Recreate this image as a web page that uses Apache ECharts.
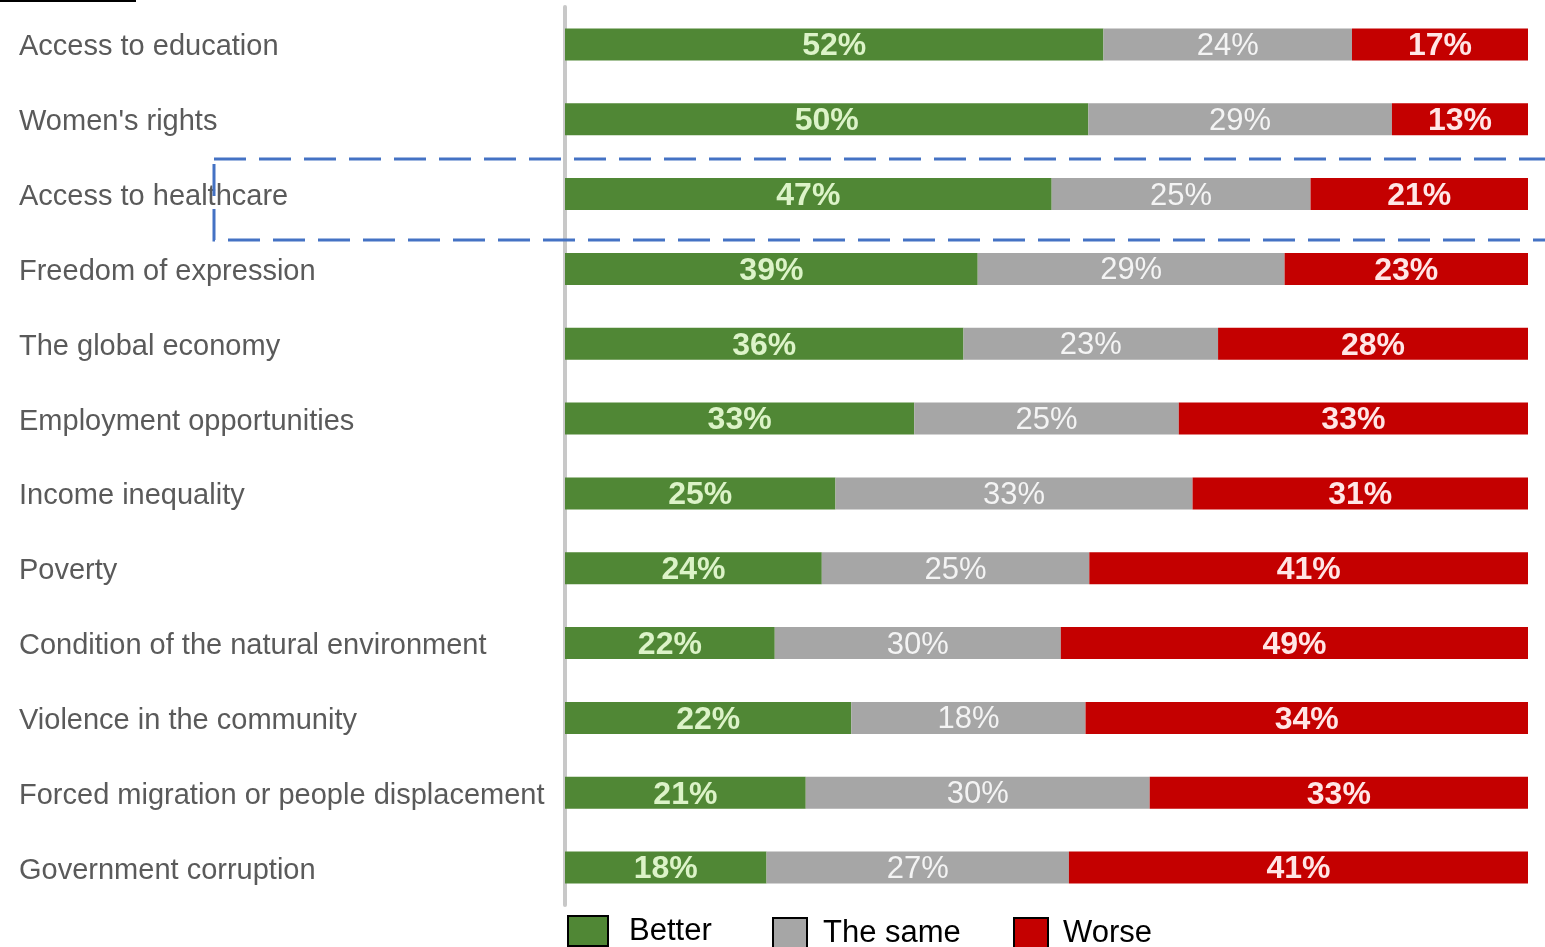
<!DOCTYPE html>
<html>
<head>
<meta charset="utf-8">
<title>Better, the same or worse</title>
<script src="https://cdn.jsdelivr.net/npm/echarts@6/dist/echarts.min.js"></script>
<style>
  html, body { margin: 0; padding: 0; background: #ffffff; }
  #chart { width: 1545px; height: 947px; }
</style>
</head>
<body>
<div id="chart"></div>
<script>
// Survey topics, top to bottom
const categories = [
  'Access to education',
  "Women's rights",
  'Access to healthcare',
  'Freedom of expression',
  'The global economy',
  'Employment opportunities',
  'Income inequality',
  'Poverty',
  'Condition of the natural environment',
  'Violence in the community',
  'Forced migration or people displacement',
  'Government corruption'
];

// Percentage of respondents per answer
const better  = [52, 50, 47, 39, 36, 33, 25, 24, 22, 22, 21, 18];
const theSame = [24, 29, 25, 29, 23, 25, 33, 25, 30, 18, 30, 27];
const worse   = [17, 13, 21, 23, 28, 33, 31, 41, 49, 34, 33, 41];

const seriesNames = ['Better', 'The same', 'Worse'];

// Each row is shown as a full-width bar: every segment takes its share of the row total,
// while the label keeps the stated percentage.
const totals = categories.map((_, i) => better[i] + theSame[i] + worse[i]);
const toShares = arr => arr.map((v, i) => ({ value: v / totals[i] * 100, raw: v }));

const FONT = '"Liberation Sans", Arial, sans-serif';

function barSeries(name, values, color, labelColor, labelWeight, labelSize) {
  return {
    name: name,
    type: 'bar',
    stack: 'answers',
    barWidth: 32,
    data: toShares(values),
    itemStyle: { color: color },
    label: {
      show: true,
      position: 'inside',
      offset: [0, 2],
      formatter: p => p.data.raw + '%',
      color: labelColor,
      fontFamily: FONT,
      fontSize: labelSize,
      fontWeight: labelWeight
    },
    emphasis: { disabled: true }
  };
}

function legendAt(name, left, iconWidth, textPad, top) {
  return {
    data: [name],
    left: left,
    top: top,
    padding: 0,
    itemWidth: iconWidth,
    itemHeight: 30,
    icon: 'rect',
    selectedMode: false,
    itemStyle: { borderColor: '#000000', borderWidth: 2 },
    textStyle: {
      fontFamily: FONT,
      fontSize: 31,
      color: '#000000',
      padding: [0, 0, 0, textPad]
    }
  };
}

const chart = echarts.init(document.getElementById('chart'), null, { renderer: 'canvas' });

chart.setOption({
  animation: false,
  backgroundColor: '#ffffff',
  grid: { left: 565, right: 17, top: 7, bottom: 42, containLabel: false },
  xAxis: {
    type: 'value',
    min: 0,
    max: 100,
    show: false
  },
  yAxis: {
    type: 'category',
    data: categories,
    inverse: true,
    offset: 1,
    axisLine: { show: true, lineStyle: { color: '#c8c8c8', width: 4 } },
    axisTick: { show: false },
    splitLine: { show: false },
    axisLabel: {
      align: 'left',
      margin: 545,
      formatter: v => '{t|' + v + '}',
      rich: {
        t: {
          fontFamily: FONT,
          fontSize: 29,
          color: '#5a5a5a',
          padding: [6, 0, 0, 0]
        }
      }
    }
  },
  legend: [
    legendAt('Better', 567, 40, 16, 915),
    legendAt('The same', 772, 34, 11, 917),
    legendAt('Worse', 1013, 34, 10, 917)
  ],
  series: [
    barSeries(seriesNames[0], better,  '#508735', '#dcf3c8', 'bold', 32),
    barSeries(seriesNames[1], theSame, '#a6a6a6', '#f4f4f4', 'normal', 31),
    barSeries(seriesNames[2], worse,   '#c40000', '#ffe6e6', 'bold', 32)
  ],
  graphic: [
    {
      type: 'rect',
      shape: { x: 0, y: 0, width: 136, height: 2 },
      style: { fill: '#000000' },
      z: 100
    },
    {
      type: 'rect',
      shape: { x: 214, y: 159, width: 1400, height: 81 },
      style: {
        fill: null,
        stroke: '#4472c4',
        lineWidth: 3,
        lineDash: [32, 13]
      },
      z: 100
    }
  ]
});
</script>
</body>
</html>
